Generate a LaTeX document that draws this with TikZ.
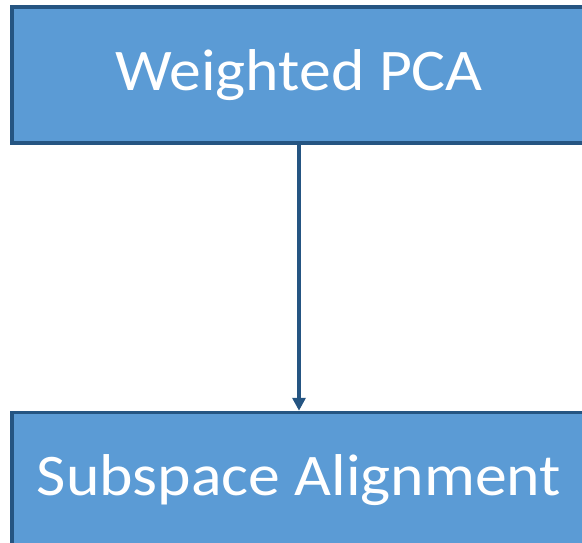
\documentclass[tikz,border=0pt]{standalone}
\usepackage{fontspec}
\setmainfont{Carlito}
\usepackage{xcolor}
\definecolor{boxblue}{RGB}{91, 155, 213}
\definecolor{edgeblue}{RGB}{37,  85, 130}
\usepackage{graphicx}
\usepackage{tikz}
\usetikzlibrary{
  arrows.meta, positioning
}

\newcommand{\widetext}[1]{\scalebox{1.08}[1]{#1}}

\tikzset{
  stagebox/.style={draw=edgeblue, fill=boxblue, line width=3.5pt,
    minimum width=574pt, minimum height=136pt, inner sep=0pt,
    text=white, font=\fontsize{59}{70}\selectfont},
  flowarrow/.style={draw=edgeblue, line width=3.5pt,
    -{Triangle[length=13pt, width=13pt]}}
}

\begin{document}
\begin{tikzpicture}[x=1pt, y=-1pt]
    \useasboundingbox (0,0) rectangle (582,542);
    \clip (0,0) rectangle (582,542);
    \node[stagebox] (wpca) at (299,75) {\widetext{Weighted PCA}};
    \node[stagebox, below=266pt of wpca.south, anchor=north] (salign) {\widetext{Subspace Alignment}};
    \draw[flowarrow] (wpca.south) -- (salign.north);
  \end{tikzpicture}
\end{document}
